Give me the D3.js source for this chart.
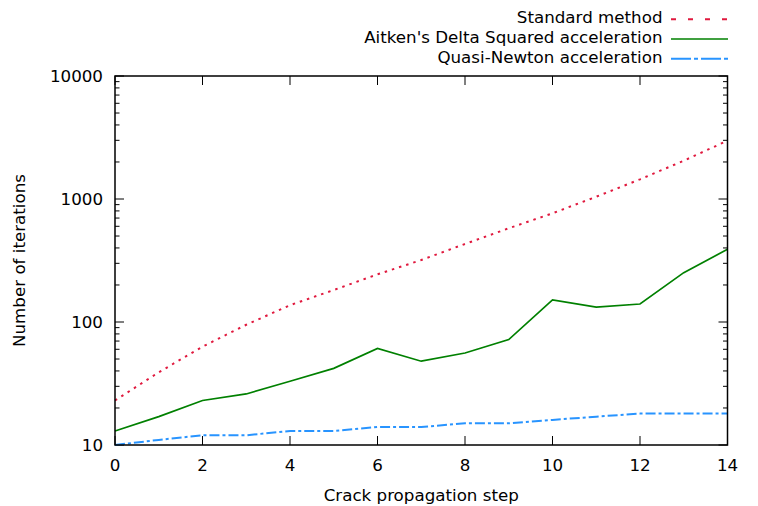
<!DOCTYPE html>
<html><head><meta charset="utf-8">
<script src="https://cdn.jsdelivr.net/npm/d3@7"></script>
<style>
html,body{margin:0;padding:0;background:#fff;}
text{font-family:"DejaVu Sans",sans-serif;font-size:16.7px;fill:#000;}
</style></head>
<body>
<svg id="chart" width="758" height="506"></svg>
<script>
const steps = [0,1,2,3,4,5,6,7,8,9,10,11,12,13,14];
const standardMethod = [23,39,63,95,137,182,244,319,431,578,765,1044,1445,2048,2980];
const aitken = [13,17,23,26,33,42,61,48,56,72,151,132,140,252,390];
const quasiNewton = [10,11,12,12,13,13,14,14,15,15,16,17,18,18,18];
const xTicks = [0,2,4,6,8,10,12,14];
const yTicks = [10,100,1000,10000];
const seriesNames = ["Standard method","Aitken's Delta Squared acceleration","Quasi-Newton acceleration"];

const svg = d3.select("#chart");
const L=115, R=727.5, T=76, B=445;
const x = d3.scaleLinear().domain([0,14]).range([L,R]);
const y = d3.scaleLog().domain([10,10000]).range([B,T]);

const series = [
  {name:seriesNames[0], values:standardMethod, color:"#e0193e", width:2, dash:"2.5,5", legDash:"5,12"},
  {name:seriesNames[1], values:aitken, color:"#008000", width:1.7, dash:null, legDash:null},
  {name:seriesNames[2], values:quasiNewton, color:"#2894ff", width:2, dash:"10,3,3,3", legDash:"20,3,4,3"}
];

// minor ticks
const minor = [];
for (let d=10; d<10000; d*=10) for (let k=2;k<=9;k++) minor.push(d*k);
const tg = svg.append("g").attr("stroke","#000").attr("stroke-width",1);
minor.forEach(v=>{
  tg.append("line").attr("x1",L).attr("x2",L+4.5).attr("y1",y(v)).attr("y2",y(v));
  tg.append("line").attr("x1",R).attr("x2",R-4.5).attr("y1",y(v)).attr("y2",y(v));
});
yTicks.forEach(v=>{
  tg.append("line").attr("x1",L).attr("x2",L+9).attr("y1",y(v)).attr("y2",y(v));
  tg.append("line").attr("x1",R).attr("x2",R-9).attr("y1",y(v)).attr("y2",y(v));
  svg.append("text").attr("x",L-12).attr("y",y(v)+6).attr("text-anchor","end").text(v);
});
xTicks.forEach(v=>{
  tg.append("line").attr("x1",x(v)).attr("x2",x(v)).attr("y1",B).attr("y2",B-9);
  tg.append("line").attr("x1",x(v)).attr("x2",x(v)).attr("y1",T).attr("y2",T+9);
  svg.append("text").attr("x",x(v)).attr("y",471).attr("text-anchor","middle").text(v);
});

// lines
const line = d3.line().x((d,i)=>x(steps[i])).y(d=>y(d));
series.forEach(s=>{
  svg.append("path").datum(s.values).attr("d",line)
    .attr("fill","none").attr("stroke",s.color).attr("stroke-width",s.width)
    .attr("stroke-dasharray",s.dash);
});

// frame
svg.append("rect").attr("x",L).attr("y",T).attr("width",R-L).attr("height",B-T)
  .attr("fill","none").attr("stroke","#000").attr("stroke-width",1.5);

// axis titles
svg.append("text").attr("x",(L+R)/2).attr("y",501).attr("text-anchor","middle").text("Crack propagation step");
svg.append("text").attr("transform",`translate(25,${(T+B)/2}) rotate(-90)`).attr("text-anchor","middle").text("Number of iterations");

// legend
const rows=[19.3,39,58.7];
series.forEach((s,i)=>{
  svg.append("text").attr("x",662.5).attr("y",rows[i]+4).attr("text-anchor","end").text(s.name);
  svg.append("line").attr("x1",671).attr("x2",728).attr("y1",rows[i]).attr("y2",rows[i])
    .attr("stroke",s.color).attr("stroke-width",s.width).attr("stroke-dasharray",s.legDash);
});
</script>
</body></html>
